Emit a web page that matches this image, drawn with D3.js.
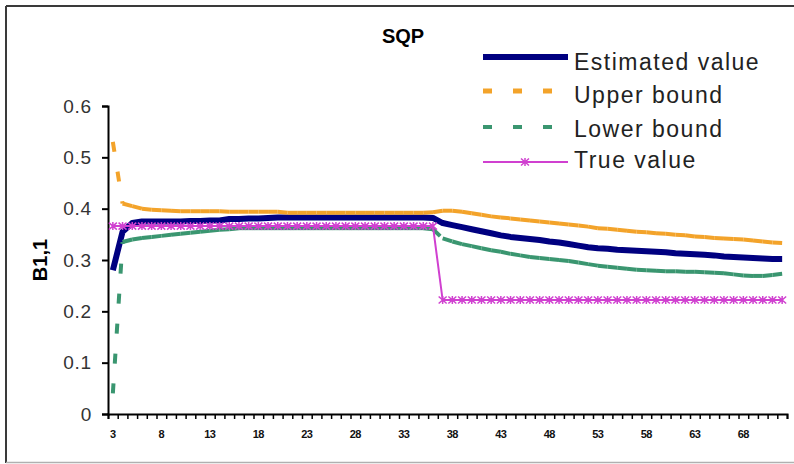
<!DOCTYPE html>
<html lang="en">
<head>
<meta charset="utf-8">
<title>SQP</title>
<script src="https://cdn.jsdelivr.net/npm/d3@7"></script>
<style>
  body { margin: 0; background: #fff; }
  text { font-family: "Liberation Sans", Arial, sans-serif; }
</style>
</head>
<body>
<script>
// categories 3..72
var categories = d3.range(3, 73);

var estimated = [0.28, 0.355, 0.372, 0.375, 0.375, 0.375, 0.375, 0.375, 0.376, 0.376, 0.377, 0.377,
  0.380, 0.380, 0.381, 0.381, 0.382, 0.383, 0.383, 0.383, 0.383, 0.383, 0.383, 0.383, 0.383, 0.383,
  0.383, 0.383, 0.383, 0.383, 0.383, 0.383, 0.383, 0.382,
  0.372, 0.368, 0.364, 0.360, 0.356, 0.352, 0.348, 0.345, 0.343, 0.341, 0.339, 0.336, 0.334, 0.331,
  0.328, 0.325, 0.323, 0.322, 0.320, 0.319, 0.318, 0.317, 0.316, 0.315, 0.313, 0.312, 0.311, 0.310,
  0.309, 0.307, 0.306, 0.305, 0.304, 0.303, 0.302, 0.302];

var upper = [0.53, 0.41, 0.405, 0.400, 0.398, 0.397, 0.396, 0.395, 0.395, 0.395, 0.395, 0.395,
  0.394, 0.394, 0.394, 0.394, 0.394, 0.394, 0.392, 0.392, 0.392, 0.392, 0.392, 0.392, 0.392, 0.392,
  0.392, 0.392, 0.392, 0.392, 0.392, 0.392, 0.392, 0.393,
  0.396, 0.396, 0.394, 0.391, 0.388, 0.385, 0.383, 0.381, 0.379, 0.377, 0.375, 0.373, 0.371, 0.369,
  0.367, 0.365, 0.362, 0.361, 0.359, 0.357, 0.355, 0.354, 0.352, 0.351, 0.349, 0.348, 0.346, 0.345,
  0.343, 0.342, 0.341, 0.340, 0.338, 0.336, 0.334, 0.333];

var lower = [0.04, 0.335, 0.340, 0.343, 0.345, 0.347, 0.349, 0.351, 0.353, 0.355, 0.357, 0.359,
  0.360, 0.362, 0.362, 0.362, 0.362, 0.362, 0.362, 0.362, 0.362, 0.362, 0.362, 0.362, 0.362, 0.362,
  0.362, 0.362, 0.362, 0.362, 0.362, 0.362, 0.362, 0.360,
  0.342, 0.336, 0.331, 0.327, 0.323, 0.319, 0.316, 0.312, 0.309, 0.306, 0.304, 0.302, 0.300, 0.298,
  0.295, 0.292, 0.289, 0.287, 0.285, 0.283, 0.281, 0.280, 0.279, 0.278, 0.278, 0.277, 0.277, 0.276,
  0.275, 0.274, 0.272, 0.270, 0.269, 0.269, 0.271, 0.273];

var trueValue = [0.366, 0.366, 0.366, 0.366, 0.366, 0.366, 0.366, 0.366, 0.366, 0.366, 0.366, 0.366,
  0.366, 0.366, 0.366, 0.366, 0.366, 0.366, 0.366, 0.366, 0.366, 0.366, 0.366, 0.366, 0.366, 0.366,
  0.366, 0.366, 0.366, 0.366, 0.366, 0.366, 0.366, 0.366,
  0.222, 0.222, 0.222, 0.222, 0.222, 0.222, 0.222, 0.222, 0.222, 0.222, 0.222, 0.222, 0.222, 0.222,
  0.222, 0.222, 0.222, 0.222, 0.222, 0.222, 0.222, 0.222, 0.222, 0.222, 0.222, 0.222, 0.222, 0.222,
  0.222, 0.222, 0.222, 0.222, 0.222, 0.222, 0.222, 0.222];

var yTicks = [0, 0.1, 0.2, 0.3, 0.4, 0.5, 0.6];
var xLabels = [3, 8, 13, 18, 23, 28, 33, 38, 43, 48, 53, 58, 63, 68];
var seriesNames = ["Estimated value", "Upper bound", "Lower bound", "True value"];

var w = 794, h = 464;
var plotLeft = 108, plotRight = 787, plotTop = 106, plotBottom = 414;

var svg = d3.select("body").append("svg")
  .attr("width", w).attr("height", h);

// chart frame
svg.append("line").attr("x1", 6).attr("y1", 6).attr("x2", 6).attr("y2", 463)
  .attr("stroke", "#3a3a3a").attr("stroke-width", 2);
svg.append("line").attr("x1", 6).attr("y1", 6).attr("x2", 794).attr("y2", 6)
  .attr("stroke", "#3a3a3a").attr("stroke-width", 2);
svg.append("line").attr("x1", 6).attr("y1", 462.5).attr("x2", 794).attr("y2", 462.5)
  .attr("stroke", "#b0b0b0").attr("stroke-width", 1.5);

var xScale = d3.scaleBand().domain(categories).range([plotLeft, plotRight]);
var xEdge = d3.scaleLinear().domain([0, categories.length]).range([plotLeft, plotRight]);
var yScale = d3.scaleLinear().domain([0, 0.6]).range([plotBottom, plotTop]);
function cx(c) { return xScale(c) + xScale.bandwidth() / 2; }

// y axis
var gY = svg.append("g").attr("transform", "translate(" + plotLeft + ",0)")
  .call(d3.axisLeft(yScale).tickValues(yTicks).tickSize(6).tickPadding(10)
    .tickFormat(function(d) { return d === 0 ? "0" : d3.format(".1f")(d); }));
gY.select(".domain").attr("stroke", "#000").attr("stroke-width", 2);
gY.selectAll(".tick line").attr("stroke", "#000").attr("stroke-width", 2);
gY.selectAll(".tick text").attr("font-size", 19).attr("fill", "#333")
  .attr("font-family", "'Liberation Sans', Arial, sans-serif").attr("letter-spacing", "0.8px");

// x axis ticks between categories
var gX = svg.append("g").attr("transform", "translate(0," + plotBottom + ")")
  .call(d3.axisBottom(xEdge).tickValues(d3.range(categories.length + 1)).tickSize(5).tickFormat(""));
gX.select(".domain").attr("stroke", "#000").attr("stroke-width", 2);
gX.selectAll(".tick line").attr("stroke", "#000").attr("stroke-width", 1.5);

var gXL = svg.append("g").attr("transform", "translate(0," + plotBottom + ")")
  .call(d3.axisBottom(xScale).tickValues(xLabels).tickSize(0).tickPadding(16));
gXL.select(".domain").remove();
gXL.selectAll(".tick text").attr("font-size", 11).attr("font-weight", "bold").attr("fill", "#111")
  .attr("font-family", "'Liberation Sans', Arial, sans-serif").attr("letter-spacing", "-0.5px");

// title and axis label
svg.append("text").attr("x", 403).attr("y", 43).attr("text-anchor", "middle")
  .attr("font-size", 20).attr("font-weight", "bold").text("SQP");
svg.append("text").attr("transform", "translate(47,260) rotate(-90)").attr("text-anchor", "middle")
  .attr("font-size", 20).attr("font-weight", "bold").text("B1,1");

var line = d3.line()
  .x(function(d, i) { return cx(categories[i]); })
  .y(function(d) { return yScale(d); });

// estimated
svg.append("path").attr("d", line(estimated))
  .attr("fill", "none").attr("stroke", "#000080").attr("stroke-width", 6).attr("stroke-linejoin", "round");

// dashed bounds: dash pattern restarts on every segment (Excel style)
function dashedSeries(values, color) {
  var segs = d3.pairs(values.map(function(v, i) { return [cx(categories[i]), yScale(v)]; }));
  svg.append("g").selectAll("path").data(segs).enter().append("path")
    .attr("d", function(s) { return d3.line()(s); })
    .attr("fill", "none").attr("stroke", color).attr("stroke-width", 4)
    .attr("stroke-dasharray", "10,20");
}
dashedSeries(upper, "#f3a32a");
dashedSeries(lower, "#3a9670");

// true value
svg.append("path").attr("d", line(trueValue))
  .attr("fill", "none").attr("stroke", "#d040d0").attr("stroke-width", 2);
var star = "M-4,-3.5L4,3.5M-4,3.5L4,-3.5M0,-4L0,4";
svg.append("g").selectAll("path").data(trueValue).enter().append("path")
  .attr("transform", function(d, i) { return "translate(" + cx(categories[i]) + "," + yScale(d) + ")"; })
  .attr("d", star).attr("fill", "none").attr("stroke", "#d040d0").attr("stroke-width", 1.5);

// legend
var legY = [57, 91, 127, 162];
var legBase = [70, 103, 137, 168];
var lg = svg.append("g");
lg.append("line").attr("x1", 483).attr("x2", 568).attr("y1", legY[0]).attr("y2", legY[0])
  .attr("stroke", "#000080").attr("stroke-width", 6);
lg.append("line").attr("x1", 483).attr("x2", 568).attr("y1", legY[1]).attr("y2", legY[1])
  .attr("stroke", "#f3a32a").attr("stroke-width", 5).attr("stroke-dasharray", "9,21");
lg.append("line").attr("x1", 483).attr("x2", 568).attr("y1", legY[2]).attr("y2", legY[2])
  .attr("stroke", "#3a9670").attr("stroke-width", 4).attr("stroke-dasharray", "9,21");
lg.append("line").attr("x1", 483).attr("x2", 568).attr("y1", legY[3]).attr("y2", legY[3])
  .attr("stroke", "#d040d0").attr("stroke-width", 2);
lg.append("path").attr("transform", "translate(525," + legY[3] + ")")
  .attr("d", star).attr("fill", "none").attr("stroke", "#d040d0").attr("stroke-width", 1.5);
lg.selectAll("text").data(seriesNames).enter().append("text")
  .attr("x", 574).attr("y", function(d, i) { return legBase[i]; })
  .attr("font-size", 23).attr("fill", "#222").attr("letter-spacing", "1.5px")
  .text(function(d) { return d; });
</script>
</body>
</html>
